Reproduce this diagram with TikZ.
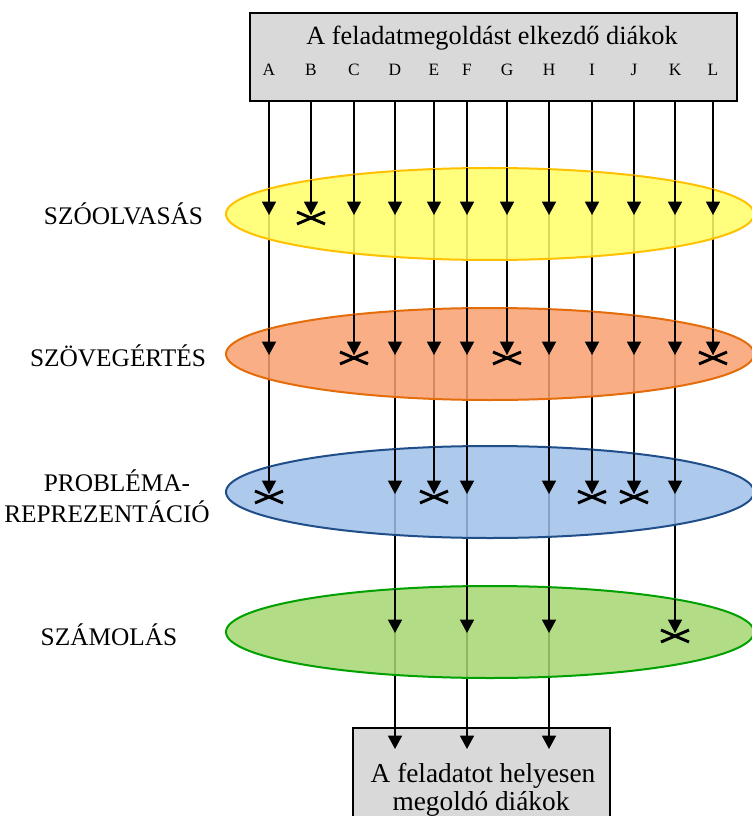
\documentclass[tikz,border=0pt]{standalone}
\usepackage{fontspec}
\setmainfont{Liberation Serif}
\usetikzlibrary{arrows.meta,shapes.geometric}
\definecolor{yelfill}{HTML}{FFFF66}
\definecolor{yeldraw}{HTML}{FFC000}
\definecolor{orafill}{HTML}{F8A070}
\definecolor{oradraw}{HTML}{E46C0A}
\definecolor{blufill}{HTML}{9FBFE8}
\definecolor{bludraw}{HTML}{1F4E89}
\definecolor{grefill}{HTML}{A6D672}
\definecolor{gredraw}{HTML}{00A000}
\definecolor{boxfill}{HTML}{D9D9D9}
\begin{document}
\begin{tikzpicture}[x=0.75pt,y=-0.75pt,
  boxstyle/.style={draw=black, line width=1.1pt, fill=boxfill, inner sep=0pt},
  ell/.style={ellipse, minimum width=396pt, minimum height=69pt, inner sep=0pt, line width=1.5pt, fill opacity=0.85},
  conn/.style={line width=1.1pt, black},
  arr/.style={conn, -{Triangle[length=10pt,width=10.5pt]}},
  cross/.style={line width=2.2pt, black},
  lab/.style={font=\fontsize{19}{22}\selectfont, anchor=base, inner sep=0pt},
  colletter/.style={font=\fontsize{13}{15}\selectfont, anchor=base, inner sep=0pt}]
\useasboundingbox (0,0) rectangle (751,816);
\def\cols{A/269/3, B/311/1, C/354/2, D/395/5, E/434/3, F/467/5, G/507/2, H/549/5, I/592/3, J/634/3, K/675/4, L/713/2}

% boxes
\node[boxstyle, minimum width=365.25pt, minimum height=66pt] (top) at (493.5,57) {};
\node[boxstyle, minimum width=192.75pt, minimum height=76.5pt] (bottom) at (481.5,779) {};
\node[lab, font=\fontsize{19.7}{23}\selectfont] (toptitle) at (492,45) {A feladatmegoldást elkezdő diákok};
\node[lab, font=\fontsize{20.5}{24}\selectfont] (bot1) at (483,782) {A feladatot helyesen};
\node[lab, font=\fontsize{20.5}{24}\selectfont] (bot2) at (481,810) {megoldó diákok};

% column coordinates and letters
\foreach \n/\x/\last in \cols {
  \node[colletter] (lab\n) at (\x,76) {\n};
  \coordinate (\n0) at (\x,101);
  \coordinate (\n1) at (\x,215);
  \coordinate (\n2) at (\x,355);
  \coordinate (\n3) at (\x,494);
  \coordinate (\n4) at (\x,633);
  \coordinate (\n5) at (\x,749);
}

% plain connector lines
\foreach \n/\x/\last in \cols {
  \foreach \i in {1,...,\last} {
    \pgfmathtruncatemacro\j{\i-1}
    \ifnum\i=5 \draw[arr] (\n\j) -- (\n\i); \else \draw[conn] (\n\j) -- (\n\i); \fi
  }
}

% ellipses
\node[ell, draw=yeldraw, fill=yelfill] (yel) at (490,214) {};
\node[ell, draw=oradraw, fill=orafill] (ora) at (490,354) {};
\node[ell, draw=bludraw, fill=blufill] (blu) at (490,492) {};
\node[ell, draw=gredraw, fill=grefill] (gre) at (490,632) {};

% arrows inside ellipses
\foreach \L/\cy in {1/214,2/354,3/492,4/632} {
  \begin{scope}
    \clip (490,\cy) ellipse [x radius=198pt, y radius=34.5pt];
    \foreach \n/\x/\last in \cols {
      \ifnum\last<\L \else
        \pgfmathtruncatemacro\j{\L-1}
        \draw[arr] (\n\j) -- (\n\L);
      \fi
    }
  \end{scope}
}

% crosses
\foreach \n/\x/\last in \cols {
  \ifnum\last<5
    \draw[cross] ([shift={(-14,-3)}]\n\last) -- ([shift={(14,9)}]\n\last);
    \draw[cross] ([shift={(-14,9)}]\n\last) -- ([shift={(14,-3)}]\n\last);
  \fi
}

% left labels
\node[lab] (l1) at (123.5,225) {SZÓOLVASÁS};
\node[lab] (l2) at (118,366) {SZÖVEGÉRTÉS};
\node[lab] (l3a) at (117,491) {PROBLÉMA-};
\node[lab] (l3b) at (107,522) {REPREZENTÁCIÓ};
\node[lab] (l4) at (109,645) {SZÁMOLÁS};
\end{tikzpicture}
\end{document}
